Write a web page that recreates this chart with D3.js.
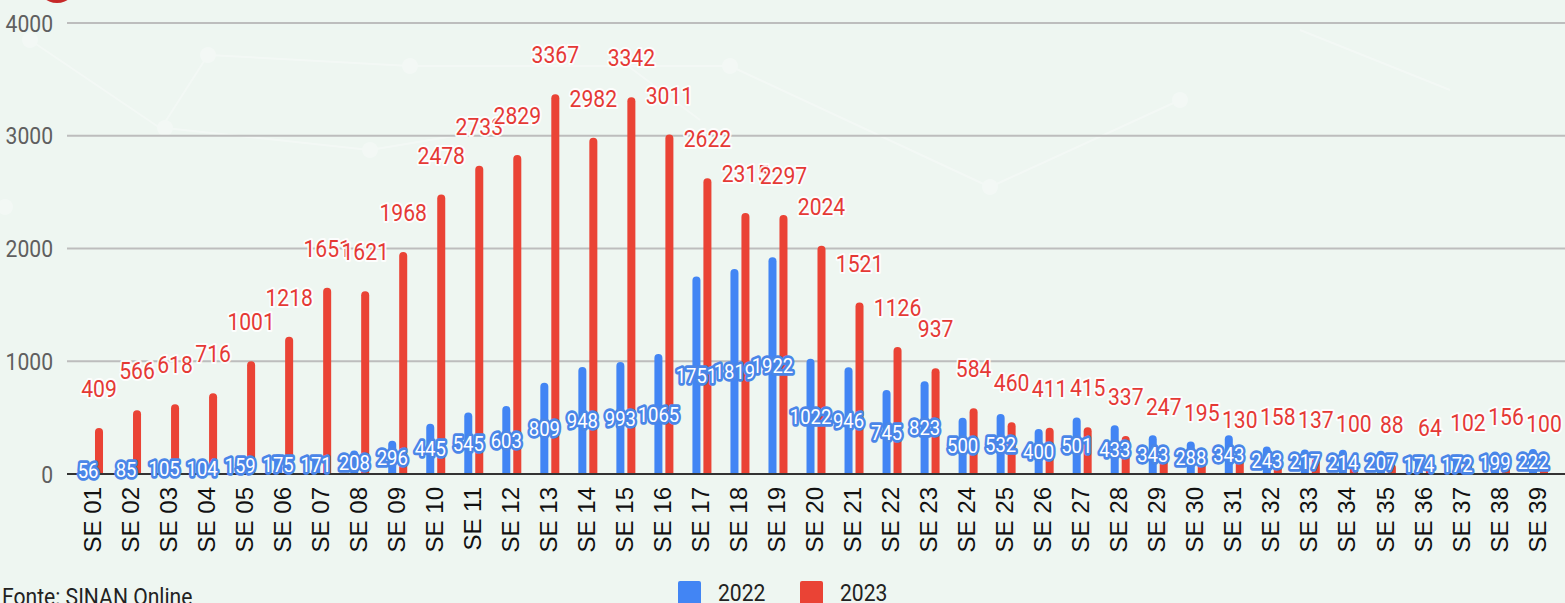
<!DOCTYPE html>
<html>
<head>
<meta charset="utf-8">
<script src="https://cdn.jsdelivr.net/npm/d3@7"></script>
<style>
  html, body { margin: 0; padding: 0; background: #eef6f1; }
  svg { display: block; }
</style>
</head>
<body>
<svg id="chart" width="1565" height="603"></svg>
<script>
const categories = ["SE 01","SE 02","SE 03","SE 04","SE 05","SE 06","SE 07","SE 08","SE 09","SE 10",
  "SE 11","SE 12","SE 13","SE 14","SE 15","SE 16","SE 17","SE 18","SE 19","SE 20",
  "SE 21","SE 22","SE 23","SE 24","SE 25","SE 26","SE 27","SE 28","SE 29","SE 30",
  "SE 31","SE 32","SE 33","SE 34","SE 35","SE 36","SE 37","SE 38","SE 39"];
const series2022 = [56,85,105,104,159,175,171,208,296,445,545,603,809,948,993,1065,1751,1819,1922,1022,
  946,745,823,500,532,400,501,433,343,288,343,243,217,214,207,174,172,199,222];
const series2023 = [409,566,618,716,1001,1218,1651,1621,1968,2478,2733,2829,3367,2982,3342,3011,2622,2315,2297,2024,
  1521,1126,937,584,460,411,415,337,247,195,130,158,137,100,88,64,102,156,100];
const seriesNames = ["2022","2023"];
const yTicks = [0,1000,2000,3000,4000];
const footnote = "Fonte: SINAN Online";

const colors = {"2022": "#4285f4", "2023": "#ea4335"};
const SX = 0.88;

const svg = d3.select("#chart");
const W = 1565, H = 603;
const left = 67, baseY = 474;

// background decoration
const deco = svg.append("g").attr("opacity", 0.4);
const decoLines = [[208,55,410,66],[410,66,730,66],[730,66,990,187],[165,128,370,150],[370,150,490,130],[990,187,1180,100],[208,55,160,130],[30,40,160,128],[620,60,700,120],[1300,30,1450,90]];
decoLines.forEach(l => deco.append("line").attr("x1",l[0]).attr("y1",l[1]).attr("x2",l[2]).attr("y2",l[3]).attr("stroke","#fbfdfc").attr("stroke-width",2));
[[208,55],[410,66],[730,66],[990,187],[165,128],[370,150],[490,130],[1180,100],[5,207],[30,40]].forEach(c =>
  deco.append("circle").attr("cx",c[0]).attr("cy",c[1]).attr("r",8).attr("fill","#fbfdfc"));
svg.append("circle").attr("cx",57).attr("cy",-17).attr("r",20).attr("fill","#c62828");

const x = d3.scaleBand().domain(categories).range([73, 1556]).padding(0);
const xs = d3.scaleBand().domain(seriesNames).range([-8, 11]).paddingInner(0.27);
const y = d3.scaleLinear().domain([0, 4000]).range([baseY, 23]);

// gridlines
svg.append("g").selectAll("line").data(yTicks.filter(t => t > 0)).join("line")
  .attr("x1", left).attr("x2", W).attr("y1", d => y(d)).attr("y2", d => y(d))
  .attr("stroke", "#bdbdbd").attr("stroke-width", 2);

// y tick labels
svg.append("g").selectAll("g").data(yTicks).join("g")
  .attr("transform", d => `translate(53,${y(d)})`)
  .append("text").attr("transform", `scale(${SX},1)`)
  .attr("text-anchor", "end").attr("dy", "0.36em")
  .attr("font-family", "Roboto").attr("font-size", 24).attr("fill", "#5f5f5f")
  .text(d => d);

const data = categories.map((c, i) => ({cat: c, v: {"2022": series2022[i], "2023": series2023[i]}}));

function barPath(x0, w, yTop, yBot) {
  const r = Math.min(w / 2, 4, (yBot - yTop));
  return `M${x0},${yBot} L${x0},${yTop + r} Q${x0},${yTop} ${x0 + r},${yTop} L${x0 + w - r},${yTop} Q${x0 + w},${yTop} ${x0 + w},${yTop + r} L${x0 + w},${yBot} Z`;
}

const bars = svg.append("g");
data.forEach(d => {
  const cx = x(d.cat) + x.bandwidth() / 2;
  seriesNames.forEach(s => {
    bars.append("path")
      .attr("d", barPath(cx + xs(s), xs.bandwidth(), y(d.v[s]), baseY))
      .attr("fill", colors[s]);
  });
});

// baseline
svg.append("line").attr("x1", left).attr("x2", W).attr("y1", baseY).attr("y2", baseY)
  .attr("stroke", "#333").attr("stroke-width", 2);

// x tick labels
svg.append("g").selectAll("text").data(categories).join("text")
  .attr("transform", d => `translate(${x(d) + x.bandwidth() / 2},487) rotate(-90)`)
  .attr("text-anchor", "end").attr("dy", "0.36em")
  .attr("font-family", "Liberation Sans, Arial").attr("font-size", 24).attr("fill", "#111")
  .text(d => d);

// data labels
const labels = svg.append("g");
data.forEach(d => {
  const cx = x(d.cat) + x.bandwidth() / 2;
  const rx = cx + xs("2023") + xs.bandwidth() / 2;
  labels.append("g").attr("transform", `translate(${rx},${y(d.v["2023"]) - 31})`)
    .append("text").attr("transform", `scale(${SX},1)`)
    .attr("text-anchor", "middle")
    .attr("font-family", "Roboto").attr("font-size", 24)
    .attr("fill", "#e53935").attr("stroke", "#ffffff").attr("stroke-opacity", 0.9)
    .attr("stroke-width", 4).attr("stroke-linejoin", "round").attr("paint-order", "stroke")
    .text(d.v["2023"]);
});
data.forEach(d => {
  const cx = x(d.cat) + x.bandwidth() / 2;
  const bx = cx + xs("2022") + xs.bandwidth() / 2;
  const ym = (y(d.v["2022"]) + baseY) / 2;
  labels.append("g").attr("transform", `translate(${bx},${ym})`)
    .append("text").attr("transform", `scale(${SX},1)`)
    .attr("text-anchor", "middle").attr("dy", "0.36em")
    .attr("font-family", "Roboto").attr("font-size", 21)
    .attr("fill", "#ffffff").attr("stroke", "#4a86e8")
    .attr("stroke-width", 5.5).attr("stroke-linejoin", "round").attr("paint-order", "stroke")
    .text(d.v["2022"]);
});

// legend
const legendPos = {"2022": 678, "2023": 800};
seriesNames.forEach(s => {
  svg.append("rect").attr("x", legendPos[s]).attr("y", 581).attr("width", 23).attr("height", 24)
    .attr("rx", 2).attr("fill", colors[s]);
  svg.append("g").attr("transform", `translate(${legendPos[s] + 40},601)`)
    .append("text").attr("transform", `scale(${SX},1)`)
    .attr("font-family", "Roboto").attr("font-size", 24).attr("fill", "#222")
    .text(s);
});

// footnote
svg.append("g").attr("transform", "translate(2,605)")
  .append("text").attr("transform", `scale(${SX},1)`)
  .attr("font-family", "Roboto").attr("font-size", 24).attr("fill", "#222")
  .text(footnote);
</script>
</body>
</html>
